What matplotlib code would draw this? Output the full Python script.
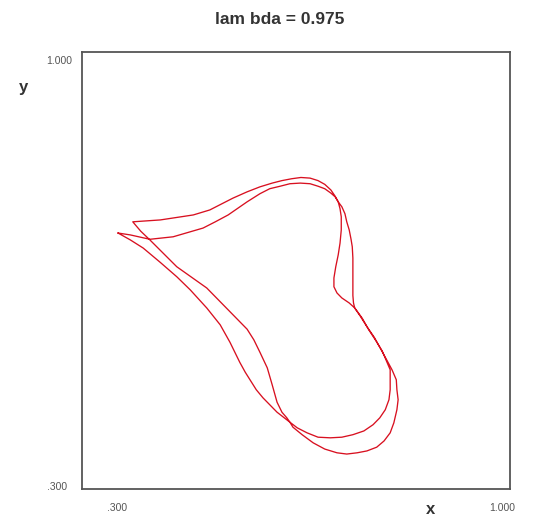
import matplotlib
matplotlib.use('Agg')
import matplotlib.pyplot as plt


LAMBDA = 0.975
AXIS_MIN = 0.300
AXIS_MAX = 1.000

# the attractor is one closed curve that goes round twice.
# first pass: left tip -> top (inner arc) -> right (outer) -> bottom (outer arc) -> upper tip
top_inner_x = [0.359, 0.379, 0.411, 0.449, 0.477, 0.498, 0.518, 0.539, 0.558, 0.570, 0.591,
               0.607, 0.624, 0.640, 0.657, 0.673, 0.686, 0.697, 0.707, 0.714, 0.719]
top_inner_y = [0.710, 0.707, 0.700, 0.704, 0.712, 0.718, 0.728, 0.739, 0.752, 0.760, 0.773,
               0.781, 0.785, 0.789, 0.790, 0.789, 0.785, 0.781, 0.774, 0.768, 0.760]
right_outer_x = [0.725, 0.730, 0.733, 0.737, 0.740, 0.742, 0.743, 0.743, 0.743, 0.743, 0.744, 0.746]
right_outer_y = [0.752, 0.741, 0.728, 0.715, 0.700, 0.688, 0.670, 0.651, 0.630, 0.610, 0.598, 0.590]
mid_one_x = [0.755, 0.766, 0.778, 0.787, 0.796]
mid_one_y = [0.577, 0.560, 0.543, 0.527, 0.511]
bottom_outer_x = [0.807, 0.814, 0.815, 0.817, 0.815, 0.810, 0.804, 0.794, 0.782, 0.766, 0.750,
                  0.733, 0.717, 0.697, 0.678, 0.660, 0.645, 0.640]
bottom_outer_y = [0.491, 0.475, 0.459, 0.443, 0.427, 0.406, 0.390, 0.377, 0.367, 0.361, 0.358,
                  0.356, 0.358, 0.364, 0.374, 0.387, 0.399, 0.407]
diag_inner_x = [0.635, 0.627, 0.619, 0.611, 0.603, 0.591, 0.581, 0.570, 0.558, 0.531, 0.504,
                0.455, 0.411, 0.396, 0.383]
diag_inner_y = [0.414, 0.423, 0.439, 0.467, 0.494, 0.519, 0.539, 0.556, 0.568, 0.595, 0.622,
                0.656, 0.699, 0.713, 0.728]

# second pass: upper tip -> top (outer arc) -> right (inner) -> bottom (inner arc) -> left tip
top_outer_x = [0.383, 0.428, 0.482, 0.509, 0.547, 0.570, 0.591, 0.611, 0.627, 0.643, 0.658,
               0.673, 0.686, 0.697, 0.707, 0.714, 0.719]
top_outer_y = [0.728, 0.731, 0.739, 0.747, 0.766, 0.776, 0.784, 0.790, 0.794, 0.797, 0.799,
               0.798, 0.794, 0.788, 0.779, 0.769, 0.760]
right_inner_x = [0.722, 0.724, 0.724, 0.722, 0.719, 0.715, 0.712, 0.712, 0.717, 0.725, 0.737, 0.746]
right_inner_y = [0.749, 0.736, 0.715, 0.694, 0.675, 0.656, 0.638, 0.624, 0.614, 0.606, 0.598, 0.590]
mid_two_x = [0.758, 0.769, 0.781, 0.791, 0.797]
mid_two_y = [0.574, 0.555, 0.537, 0.521, 0.507]
bottom_inner_x = [0.804, 0.804, 0.804, 0.802, 0.796, 0.787, 0.776, 0.761, 0.743, 0.725, 0.706,
                  0.686, 0.668, 0.652, 0.640]
bottom_inner_y = [0.491, 0.475, 0.459, 0.443, 0.427, 0.414, 0.403, 0.393, 0.387, 0.383, 0.382,
                  0.383, 0.390, 0.398, 0.407]
diag_outer_x = [0.619, 0.596, 0.585, 0.567, 0.558, 0.542, 0.526, 0.504, 0.477, 0.455, 0.428,
                0.400, 0.379, 0.359]
diag_outer_y = [0.423, 0.446, 0.459, 0.487, 0.503, 0.535, 0.563, 0.590, 0.619, 0.640, 0.663,
                0.686, 0.699, 0.710]


def build_loop():
    # join the pieces in the order the curve is travelled
    xs = (top_inner_x + right_outer_x + mid_one_x + bottom_outer_x + diag_inner_x +
          top_outer_x + right_inner_x + mid_two_x + bottom_inner_x + diag_outer_x)
    ys = (top_inner_y + right_outer_y + mid_one_y + bottom_outer_y + diag_inner_y +
          top_outer_y + right_inner_y + mid_two_y + bottom_inner_y + diag_outer_y)
    return xs, ys


def draw(xs, ys):
    plt.rcParams['font.family'] = ['Liberation Sans', 'DejaVu Sans']

    fig = plt.figure(figsize=(5.35, 5.20), dpi=100)
    ax = fig.add_axes([0.1533, 0.0596, 0.80, 0.8404])

    ax.plot(xs, ys, color='#d81020', linewidth=0.95, solid_joinstyle='round')

    ax.set_xlim(AXIS_MIN, AXIS_MAX)
    ax.set_ylim(AXIS_MIN, AXIS_MAX)
    ax.set_xticks([])
    ax.set_yticks([])
    for side in ax.spines.values():
        side.set_color('#555555')
        side.set_linewidth(1.3)

    # end labels of the axes, written like the original
    grey = '#555555'
    fig.text(0.1346, 0.883, '%.3f' % AXIS_MAX, ha='right', va='center', fontsize=7.5, color=grey)
    fig.text(0.1252, 0.0635, ('%.3f' % AXIS_MIN)[1:], ha='right', va='center', fontsize=7.5, color=grey)
    fig.text(0.2187, 0.023, ('%.3f' % AXIS_MIN)[1:], ha='center', va='center', fontsize=7.5, color=grey)
    fig.text(0.938, 0.023, '%.3f' % AXIS_MAX, ha='center', va='center', fontsize=7.5, color=grey)

    fig.text(0.805, 0.021, 'x', ha='center', va='center', fontsize=12, fontweight='bold', color='#333333')
    fig.text(0.043, 0.832, 'y', ha='center', va='center', fontsize=12, fontweight='bold', color='#333333')

    fig.text(0.523, 0.962, 'lam bda = %.3f' % LAMBDA, ha='center', va='center',
             fontsize=12.5, fontweight='bold', color='#333333')

    fig.savefig('out.png', dpi=100)


if __name__ == "__main__":
    loop_x, loop_y = build_loop()
    draw(loop_x, loop_y)
